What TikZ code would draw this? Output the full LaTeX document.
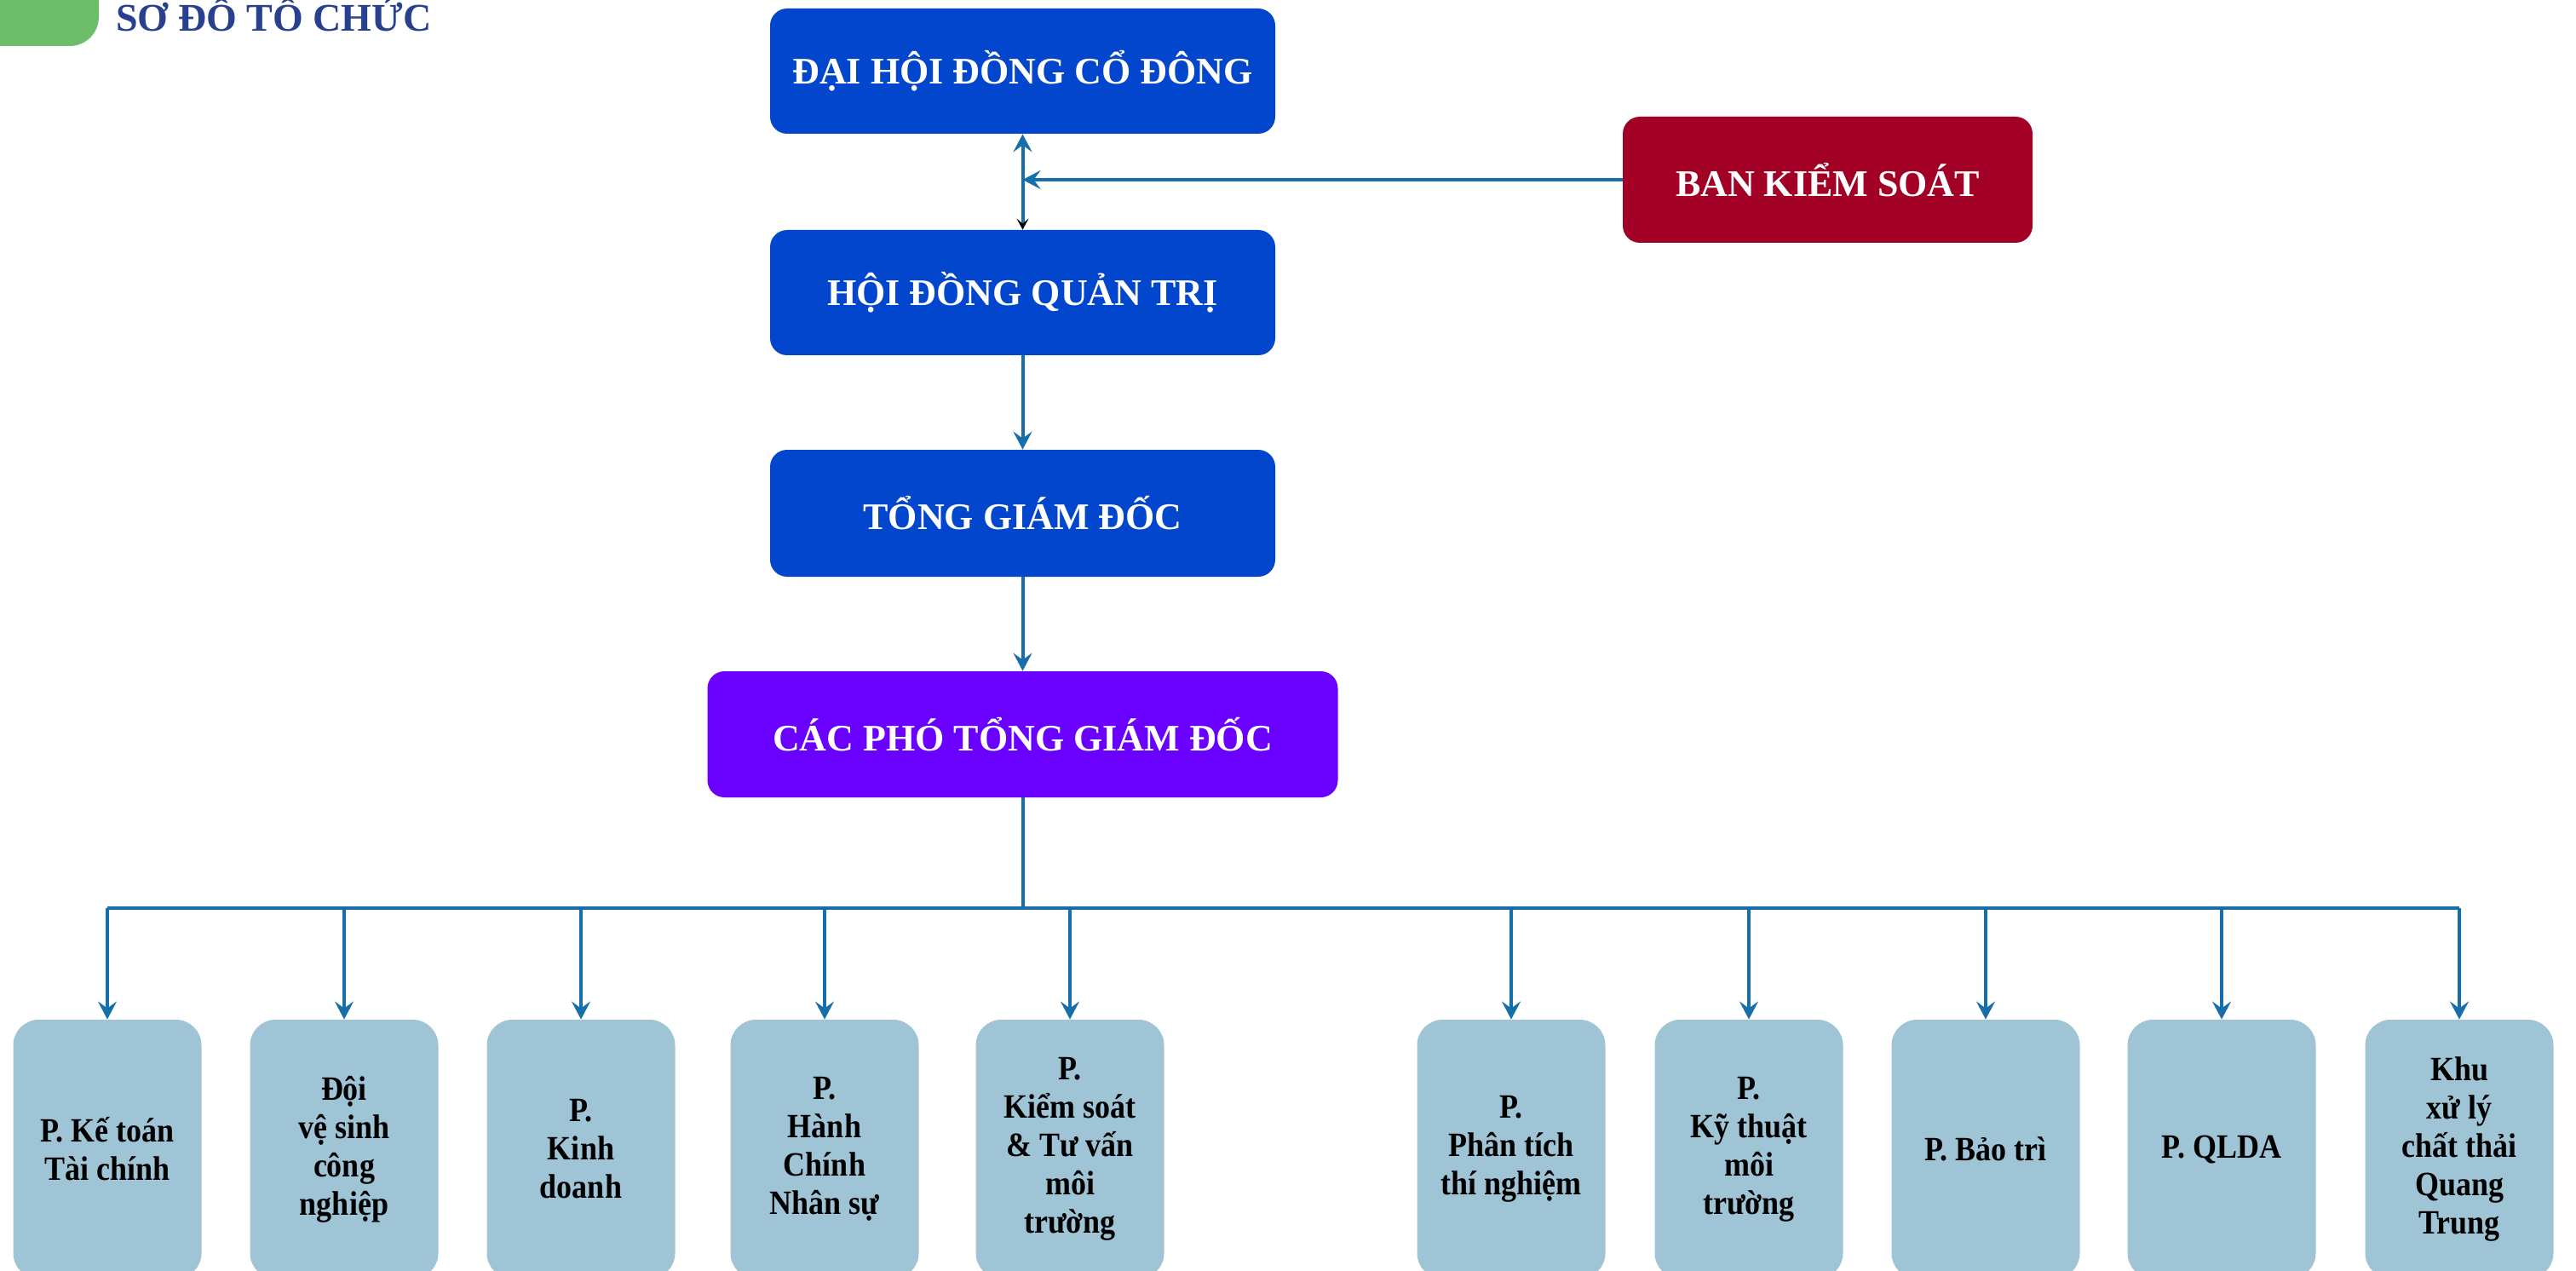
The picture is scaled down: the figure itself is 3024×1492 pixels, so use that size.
\documentclass[tikz,border=0pt]{standalone}
\usepackage{fontspec}
\setmainfont{Liberation Serif}
\newfontfamily\deptfont{Liberation Serif}[FakeStretch=0.9]
\usetikzlibrary{arrows.meta}
\definecolor{mainblue}{RGB}{2,70,205}
\definecolor{phopurple}{RGB}{106,0,255}
\definecolor{bksred}{RGB}{162,0,37}
\definecolor{deptblue}{RGB}{158,196,213}
\definecolor{connblue}{RGB}{22,111,170}
\definecolor{titleblue}{RGB}{40,64,142}
\definecolor{tabgreen}{RGB}{110,190,105}
\tikzset{
  topbox/.style={rectangle, rounded corners=10pt, fill=mainblue, text=white,
    font=\bfseries\fontsize{22}{26}\selectfont, minimum width=296.5pt,
    minimum height=73.5pt, inner sep=0pt},
  deptbox/.style={rectangle, rounded corners=15pt, fill=deptblue, text=black,
    font=\deptfont\bfseries\fontsize{20}{22.5}\selectfont, minimum width=110.5pt,
    minimum height=152pt, inner sep=0pt, align=center},
  conn/.style={draw=connblue, line width=2pt},
  tip/.style={-{Stealth[length=10.5pt,width=11pt,inset=4pt,color=connblue]}},
}
\begin{document}
\begin{tikzpicture}[x=0.5pt,y=-0.5pt]
\useasboundingbox (0,0) rectangle (3024,1492);
\clip (0,0) rectangle (3024,1492);
% title tab
\fill[tabgreen, rounded corners=17pt] (-100,-40) rectangle (116,54);
\node[anchor=base west, inner sep=0pt, text=titleblue,
  font=\bfseries\fontsize{23}{26}\selectfont] (title) at (136,37) {SƠ ĐỒ TỔ CHỨC};
% top boxes
\node[topbox] (dh) at (1200.5,83.5) {ĐẠI HỘI ĐỒNG CỔ ĐÔNG};
\node[topbox] (hd) at (1200.5,343.5) {HỘI ĐỒNG QUẢN TRỊ};
\node[topbox, minimum height=74.5pt] (tg) at (1200.5,602.5) {TỔNG GIÁM ĐỐC};
\node[topbox, fill=phopurple, minimum width=370pt, minimum height=74pt] (pho) at (1200.5,862) {CÁC PHÓ TỔNG GIÁM ĐỐC};
\node[topbox, fill=bksred, minimum width=240.5pt, minimum height=74pt] (bks) at (2145.5,211) {BAN KIỂM SOÁT};
% departments
\node[deptbox] (d1) at (126,1349) {P. Kế toán\\Tài chính};
\node[deptbox] (d2) at (404,1349) {Đội\\vệ sinh\\công\\nghiệp};
\node[deptbox] (d3) at (682,1349) {P.\\Kinh\\doanh};
\node[deptbox] (d4) at (968,1349) {P.\\Hành\\Chính\\Nhân sự};
\node[deptbox] (d5) at (1256,1349) {P.\\Kiểm soát\\\& Tư vấn\\môi\\trường};
\node[deptbox] (d6) at (1774,1349) {P.\\Phân tích\\thí nghiệm};
\node[deptbox] (d7) at (2053,1349) {P.\\Kỹ thuật\\môi\\trường};
\node[deptbox] (d8) at (2331,1349) {P. Bảo trì};
\node[deptbox] (d9) at (2608,1349) {P. QLDA};
\node[deptbox] (d10) at (2887,1349) {Khu\\xử lý\\chất thải\\Quang\\Trung};
% connectors
\draw[conn, {Stealth[length=6.5pt,width=7pt,inset=3pt,color=black]}-{Stealth[length=10.5pt,width=11pt,inset=4pt,color=connblue]}] (hd.north) -- (dh.south);
\draw[conn, tip] (bks.west) -- (bks.west -| dh.south);
\draw[conn, tip] (hd.south) -- (tg.north);
\draw[conn, tip] (tg.south) -- (pho.north);
\coordinate (busL) at (126,1066);
\coordinate (busR) at (2887,1066);
\draw[conn] (pho.south) -- (pho.south |- busL);
\draw[conn, line width=2.4pt] (busL) -- (busR);
\foreach \d in {d1,d2,d3,d4,d5,d6,d7,d8,d9,d10}{
  \draw[conn, tip] (\d.north |- busL) -- (\d.north);
}
\end{tikzpicture}
\end{document}
